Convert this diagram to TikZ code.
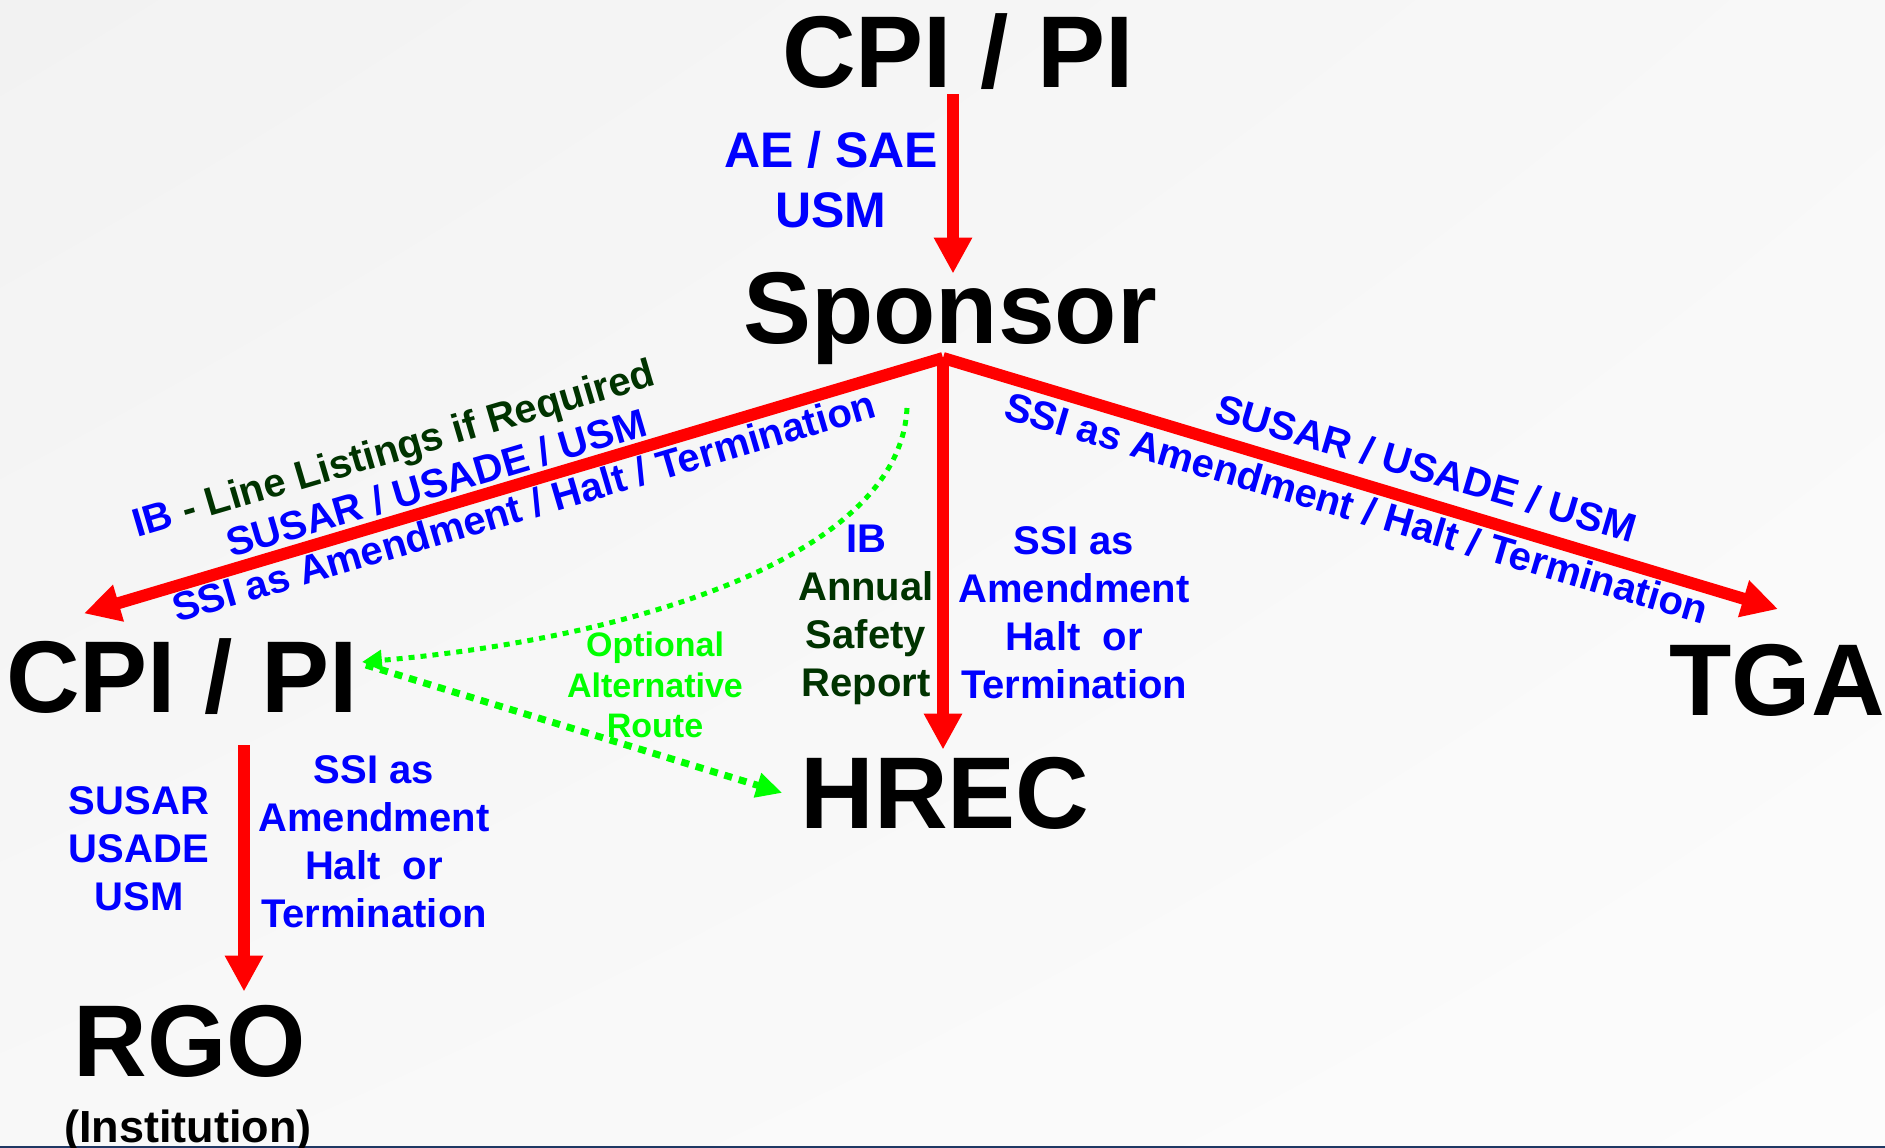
\documentclass[tikz,border=0pt]{standalone}
\usepackage{fontspec}
\setmainfont{Liberation Sans}
\usetikzlibrary{arrows.meta,calc,shadings}
\definecolor{dkgreen}{RGB}{0,51,0}
\definecolor{ltgreen}{RGB}{0,255,0}
\definecolor{lblue}{RGB}{0,0,255}
\definecolor{lred}{RGB}{255,0,0}
\definecolor{rulecol}{RGB}{31,56,100}
\definecolor{bgA}{RGB}{242,242,242}
\definecolor{bgB}{RGB}{248,248,248}
\definecolor{bgC}{RGB}{252,252,252}
\begin{document}
\begin{tikzpicture}[x=1pt,y=-1pt,
  big/.style={font=\bfseries\fontsize{102}{110}\selectfont, inner sep=0pt, anchor=base},
  lbl/.style={font=\bfseries\fontsize{40}{48}\selectfont, inner sep=0pt, align=center, anchor=north},
  diag/.style={font=\bfseries\fontsize{40}{48}\selectfont, inner sep=0pt, anchor=base west, text=lblue},
  redarrow/.style={draw=lred, line width=12pt, -{Triangle[length=36pt,width=36pt]}},
  gcurve/.style={draw=ltgreen, line width=5pt, dash pattern=on 6pt off 6pt, -{Triangle[length=20pt,width=20pt]}},
  gstraight/.style={draw=ltgreen, line width=7pt, dash pattern=on 8pt off 7pt, -{Triangle[length=26pt,width=24pt]}}]
\useasboundingbox (0,0) rectangle (1885,1148);
\shade[upper left=bgA, upper right=bgB, lower left=bgB, lower right=bgC] (0,0) rectangle (1885,1148);
\draw[rulecol, line width=2.5pt] (0,1147) -- (1885,1147);

% main nodes
\node[big] (cpitop) at (958,88) {CPI / PI};
\node[big] (sponsor) at (950,343) {Sponsor};
\node[big] (cpileft) at (182,712) {CPI / PI};
\node[big] (tga) at (1777,715) {TGA};
\node[big] (hrec) at (945,828) {HREC};
\node[big] (rgo) at (190,1076) {RGO};
\node[font=\bfseries\fontsize{45}{50}\selectfont, inner sep=0pt, anchor=base] (inst) at (188,1142) {(Institution)};

% labels
\node[lbl, text=lblue, font=\bfseries\fontsize{50}{60}\selectfont] (aesae) at (831,131) {AE / SAE\\USM};
\node[lbl, text=dkgreen] (ibasr) at (866,525) {{\color{lblue}IB}\\Annual\\Safety\\Report};
\node[lbl, text=lblue] (ssihrec) at (1074,526) {SSI as\\Amendment\\Halt~~or\\Termination};
\node[lbl, text=lblue] (susrgo) at (139,786) {SUSAR\\USADE\\USM};
\node[lbl, text=lblue] (ssirgo) at (374,755) {SSI as\\Amendment\\Halt~~or\\Termination};
\node[lbl, text=ltgreen, font=\bfseries\fontsize{34}{40.5}\selectfont] (optalt) at (655,632) {Optional\\Alternative\\Route};

\node[diag, rotate=16.4] (ibline) at (137,538) {IB\ \textcolor{dkgreen}{- Line Listings if Required}};
\node[diag, rotate=16.4] (susleft) at (231,558) {SUSAR / USADE / USM};
\node[diag, rotate=16.4] (ssileft) at (177,623) {SSI as Amendment / Halt / Termination};
\node[diag, rotate=-16.4] (susright) at (1213,420) {SUSAR / USADE / USM};
\node[diag, rotate=-16.4] (ssiright) at (1002,418) {SSI as Amendment / Halt / Termination};

% connectors
\coordinate (junc) at ([xshift=-7pt,yshift=-15pt]sponsor.base);
\draw[redarrow] ([xshift=-5pt,yshift=-4pt]cpitop.south) -- ([xshift=3pt,yshift=-2pt]sponsor.north);
\draw[redarrow] (junc) -- ([xshift=-98pt,yshift=24.5pt]cpileft.north);
\draw[redarrow] (junc) -- ([xshift=1pt,yshift=34.5pt]tga.north);
\draw[redarrow] (junc) -- ([xshift=-2pt,yshift=7pt]hrec.north);
\draw[redarrow] ([xshift=62pt,yshift=-33pt]cpileft.base) -- ([xshift=54pt,yshift=13pt]rgo.north);

\coordinate (gstart) at (907,408);
\draw[gcurve] (gstart) .. controls (900,560) and (620,640) .. ([xshift=4pt,yshift=50pt]cpileft.base east);
\draw[gstraight] ([xshift=8pt,yshift=47pt]cpileft.base east) -- ([xshift=-18pt]hrec.west);
\end{tikzpicture}
\end{document}
